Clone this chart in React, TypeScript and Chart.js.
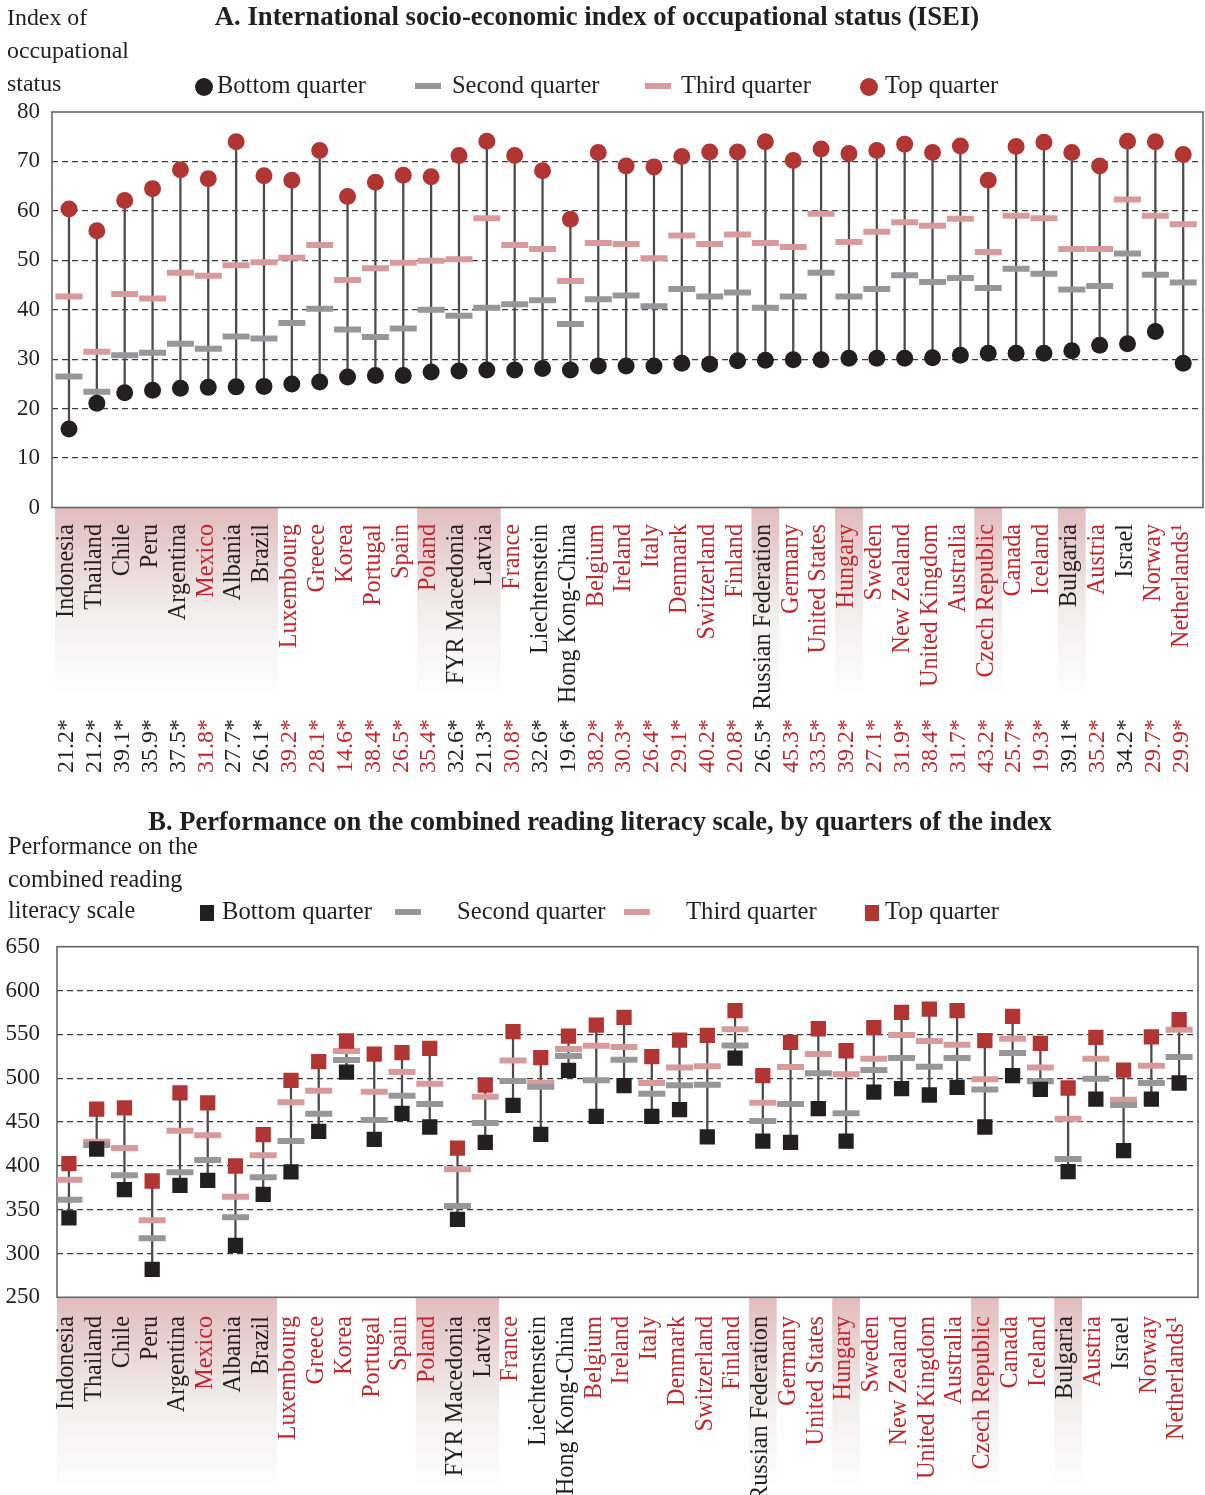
import React, { useEffect, useRef } from 'react';
import { Chart, registerables } from 'chart.js';

Chart.register(...registerables);

const countries = ['Indonesia', 'Thailand', 'Chile', 'Peru', 'Argentina', 'Mexico', 'Albania', 'Brazil', 'Luxembourg', 'Greece', 'Korea', 'Portugal', 'Spain', 'Poland', 'FYR Macedonia', 'Latvia', 'France', 'Liechtenstein', 'Hong Kong-China', 'Belgium', 'Ireland', 'Italy', 'Denmark', 'Switzerland', 'Finland', 'Russian Federation', 'Germany', 'United States', 'Hungary', 'Sweden', 'New Zealand', 'United Kingdom', 'Australia', 'Czech Republic', 'Canada', 'Iceland', 'Bulgaria', 'Austria', 'Israel', 'Norway', 'Netherlands\u00B9'];

// 1 = OECD country (red label)
const oecd = [0, 0, 0, 0, 0, 1, 0, 0, 1, 1, 1, 1, 1, 1, 0, 0, 1, 0, 0, 1, 1, 1, 1, 1, 1, 0, 1, 1, 1, 1, 1, 1, 1, 1, 1, 1, 0, 1, 0, 1, 1];

// shaded country groups (first index, last index)
const shadedGroups = [[0, 7], [13, 15], [25, 25], [28, 28], [33, 33], [36, 36]];

// Numbers under panel A
const gapValues = [21.2, 21.2, 39.1, 35.9, 37.5, 31.8, 27.7, 26.1, 39.2, 28.1, 14.6, 38.4, 26.5, 35.4, 32.6, 21.3, 30.8, 32.6, 19.6, 38.2, 30.3, 26.4, 29.1, 40.2, 20.8, 26.5, 45.3, 33.5, 39.2, 27.1, 31.9, 38.4, 31.7, 43.2, 25.7, 19.3, 39.1, 35.2, 34.2, 29.7, 29.9];

// Panel A: ISEI by quarter
const iseiBottom = [15.9, 21.1, 23.2, 23.7, 24.1, 24.3, 24.4, 24.5, 25.0, 25.4, 26.4, 26.7, 26.7, 27.4, 27.6, 27.8, 27.8, 28.1, 27.8, 28.6, 28.6, 28.6, 29.2, 29.0, 29.7, 29.8, 29.9, 29.9, 30.2, 30.2, 30.2, 30.3, 30.8, 31.2, 31.2, 31.2, 31.7, 32.8, 33.1, 35.6, 29.2];
const iseiSecond = [26.5, 23.4, 30.8, 31.3, 33.1, 32.1, 34.6, 34.2, 37.3, 40.2, 36.0, 34.5, 36.2, 40.0, 38.8, 40.4, 41.1, 41.9, 37.1, 42.1, 42.9, 40.7, 44.2, 42.7, 43.5, 40.4, 42.7, 47.5, 42.7, 44.2, 47.0, 45.6, 46.4, 44.4, 48.3, 47.3, 44.1, 44.8, 51.4, 47.1, 45.5];
const iseiThird = [42.7, 31.5, 43.2, 42.3, 47.5, 46.9, 49.0, 49.6, 50.5, 53.1, 46.0, 48.4, 49.5, 49.9, 50.2, 58.5, 53.1, 52.3, 45.8, 53.5, 53.3, 50.4, 55.0, 53.3, 55.2, 53.5, 52.7, 59.4, 53.7, 55.8, 57.7, 57.0, 58.4, 51.7, 59.0, 58.5, 52.3, 52.3, 62.3, 59.0, 57.3];
const iseiTop = [60.4, 56.0, 62.1, 64.5, 68.3, 66.5, 74.0, 67.1, 66.2, 72.2, 62.9, 65.8, 67.2, 66.9, 71.2, 74.1, 71.2, 68.1, 58.3, 71.8, 69.1, 68.9, 71.0, 71.9, 71.9, 74.0, 70.2, 72.5, 71.6, 72.2, 73.5, 71.8, 73.1, 66.2, 73.0, 73.9, 71.8, 69.1, 74.1, 74.0, 71.4];

// Panel B: reading performance by quarter
const readBottom = [340.5, 419.2, 372.8, 281.9, 377.7, 383.5, 309.3, 367.5, 393.0, 439.3, 507.0, 430.2, 459.9, 444.3, 339.0, 426.8, 469.0, 435.9, 508.9, 456.4, 491.4, 456.4, 464.1, 432.9, 523.0, 428.3, 426.8, 465.2, 428.3, 484.2, 488.0, 480.8, 489.5, 444.3, 502.8, 487.2, 393.3, 476.2, 417.3, 476.2, 494.5];
const readSecond = [361.4, 423.7, 389.2, 317.3, 392.6, 406.6, 341.2, 386.9, 428.3, 459.5, 520.7, 452.3, 480.0, 470.5, 354.2, 448.8, 496.7, 490.3, 525.3, 497.5, 521.1, 482.3, 491.8, 492.6, 537.4, 451.1, 470.5, 505.5, 459.9, 509.3, 523.0, 513.1, 523.0, 487.2, 528.7, 496.4, 407.8, 499.4, 469.4, 494.5, 524.1];
const readThird = [384.2, 427.6, 420.3, 337.8, 440.1, 434.8, 364.8, 412.0, 472.4, 485.7, 531.0, 484.6, 507.0, 493.7, 396.0, 478.9, 520.3, 494.9, 533.2, 537.1, 535.5, 494.5, 512.3, 513.5, 555.7, 472.0, 512.7, 527.5, 504.4, 522.2, 549.2, 542.4, 538.2, 498.7, 545.0, 512.3, 453.8, 522.2, 475.5, 514.2, 555.3];
const readTop = [402.5, 464.8, 466.0, 382.7, 483.1, 471.7, 399.8, 435.5, 497.5, 518.8, 542.4, 527.5, 529.1, 534.0, 420.3, 492.2, 553.0, 523.4, 548.1, 560.6, 569.4, 524.5, 543.5, 548.8, 577.0, 502.8, 540.9, 556.4, 531.3, 557.6, 575.1, 578.9, 577.0, 542.8, 570.5, 539.7, 488.8, 546.6, 509.3, 547.0, 566.7];

const legendLabels = ['Bottom quarter', 'Second quarter', 'Third quarter', 'Top quarter'];

const FAMILY = "'Liberation Serif', 'DejaVu Serif', serif";
const DARK = '#231f20';
const RED_TEXT = '#c1272d';
const C_BOTTOM = '#231f20';
const C_SECOND = '#97979b';
const C_THIRD = '#d89b9b';
const C_TOP = '#b13533';
const STEM = '#4a4a4a';

function fitSize(ctx: CanvasRenderingContext2D, text: string, weight: string, width: number) {
  ctx.font = `${weight} 100px ${FAMILY}`;
  return (100 * width) / ctx.measureText(text).width;
}

type PanelLayout = {
  title: string; titleX: number; titleY: number; titleW: number;
  yTitle: string[]; yTitleX: number; yTitleYs: number[]; yTitleFitW: number;
  legendY: number; legendFitW: number; markerKind: 'circle' | 'square';
  markerX: number[]; textX: number[];
  labelTop: number; bandBottom: number; numbersBottom?: number;
};

function decorPlugin(p: PanelLayout) {
  return {
    id: 'decor',
    beforeDraw(chart: any) {
      const ctx: CanvasRenderingContext2D = chart.ctx;
      const area = chart.chartArea;
      const xs = chart.scales.x;
      ctx.save();
      // shading bands under the axis
      for (const [a, b] of shadedGroups) {
        const x0 = Math.max(area.left, xs.getPixelForValue(a - 0.5));
        const x1 = Math.min(area.right, xs.getPixelForValue(b + 0.5));
        const g = ctx.createLinearGradient(0, area.bottom, 0, p.bandBottom);
        g.addColorStop(0, '#e2bcbd');
        g.addColorStop(0.55, '#f1eeee');
        g.addColorStop(1, '#ffffff');
        ctx.fillStyle = g;
        ctx.fillRect(x0, area.bottom, x1 - x0, p.bandBottom - area.bottom);
      }
      // category labels
      const ls = fitSize(ctx, 'Indonesia', '', 94);
      ctx.font = `${ls}px ${FAMILY}`;
      ctx.textBaseline = 'middle';
      countries.forEach((c, i) => {
        const x = xs.getPixelForValue(i) - 2;
        ctx.save();
        ctx.translate(x, p.labelTop);
        ctx.rotate(-Math.PI / 2);
        ctx.textAlign = 'right';
        ctx.fillStyle = oecd[i] ? RED_TEXT : DARK;
        ctx.fillText(c, 0, 0);
        ctx.restore();
      });
      // numbers row
      if (p.numbersBottom !== undefined) {
        const ns = fitSize(ctx, '21.2*', '', 54);
        ctx.font = `${ns}px ${FAMILY}`;
        gapValues.forEach((v, i) => {
          const x = xs.getPixelForValue(i) - 2;
          ctx.save();
          ctx.translate(x, p.numbersBottom as number);
          ctx.rotate(-Math.PI / 2);
          ctx.textAlign = 'left';
          ctx.fillStyle = oecd[i] ? RED_TEXT : DARK;
          ctx.fillText(v.toFixed(1) + '*', 0, 0);
          ctx.restore();
        });
      }
      // title
      const ts = fitSize(ctx, p.title, 'bold', p.titleW);
      ctx.font = `bold ${ts}px ${FAMILY}`;
      ctx.fillStyle = DARK;
      ctx.textAlign = 'center';
      ctx.fillText(p.title, p.titleX, p.titleY);
      // y axis title
      const ys = fitSize(ctx, p.yTitle.reduce((a, b) => (a.length > b.length ? a : b)), '', p.yTitleFitW);
      ctx.font = `${ys}px ${FAMILY}`;
      ctx.textAlign = 'left';
      p.yTitle.forEach((line, k) => ctx.fillText(line, p.yTitleX, p.yTitleYs[k]));
      // legend
      const lg = fitSize(ctx, legendLabels[0], '', p.legendFitW);
      const colors = [C_BOTTOM, C_SECOND, C_THIRD, C_TOP];
      legendLabels.forEach((t, k) => {
        const mx = p.markerX[k];
        ctx.fillStyle = colors[k];
        if (k === 1 || k === 2) {
          ctx.fillRect(mx - 13, p.legendY - 3, 26, 6);
        } else if (p.markerKind === 'circle') {
          ctx.beginPath();
          ctx.arc(mx, p.legendY + 1, 9, 0, Math.PI * 2);
          ctx.fill();
        } else {
          ctx.fillRect(mx - 7, p.legendY - 7, 14, 16);
        }
        ctx.font = `${lg}px ${FAMILY}`;
        ctx.fillStyle = DARK;
        ctx.textAlign = 'left';
        ctx.fillText(t, p.textX[k], p.legendY + 1);
      });
      ctx.restore();
    },
    beforeDatasetsDraw(chart: any) {
      const ctx: CanvasRenderingContext2D = chart.ctx;
      const a = chart.chartArea;
      ctx.save();
      ctx.strokeStyle = '#666666';
      ctx.lineWidth = 1.6;
      ctx.strokeRect(a.left, a.top, a.right - a.left, a.bottom - a.top);
      ctx.restore();
    },
  };
}

function buildDatasets(bottom: number[], second: number[], third: number[], top: number[], square: boolean) {
  const pts = (arr: number[]) => arr.map((v, i) => ({ x: i, y: v }));
  const markStyle = square ? 'rect' : 'circle';
  const markR = square ? 10.8 : 8.5;
  return [
    {
      type: 'bar', label: 'range', data: bottom.map((v, i) => ({ x: i, y: [v, top[i]] })),
      backgroundColor: STEM, borderWidth: 0, barThickness: 1.6, grouped: false, order: 10,
    },
    {
      type: 'scatter', label: legendLabels[2], data: pts(third), pointStyle: 'line', pointRadius: 13.5,
      pointBorderWidth: 6, pointBorderColor: C_THIRD, pointBackgroundColor: C_THIRD, order: 4,
    },
    {
      type: 'scatter', label: legendLabels[1], data: pts(second), pointStyle: 'line', pointRadius: 13.5,
      pointBorderWidth: 6, pointBorderColor: C_SECOND, pointBackgroundColor: C_SECOND, order: 3,
    },
    {
      type: 'scatter', label: legendLabels[0], data: pts(bottom), pointStyle: markStyle, pointRadius: markR,
      pointBorderWidth: 0, pointBackgroundColor: C_BOTTOM, order: 2,
    },
    {
      type: 'scatter', label: legendLabels[3], data: pts(top), pointStyle: markStyle, pointRadius: markR,
      pointBorderWidth: 0, pointBackgroundColor: C_TOP, order: 1,
    },
  ];
}

function makeConfig(opts: {
  datasets: any[]; xMin: number; xMax: number; yMin: number; yMax: number; step: number;
  axisW: number; tickPad: number; padding: any; plugin: any;
}) {
  return {
    type: 'scatter',
    data: { datasets: opts.datasets },
    options: {
      responsive: false,
      animation: false,
      devicePixelRatio: 1,
      events: [],
      layout: { padding: opts.padding, autoPadding: false },
      plugins: { legend: { display: false }, tooltip: { enabled: false }, title: { display: false } },
      scales: {
        x: {
          type: 'linear', display: false, min: opts.xMin, max: opts.xMax, offset: false,
          grid: { offset: false },
        },
        y: {
          type: 'linear', min: opts.yMin, max: opts.yMax,
          ticks: { stepSize: opts.step, color: DARK, font: { family: FAMILY, size: 23 }, padding: opts.tickPad },
          grid: {
            drawTicks: false, lineWidth: 1.2,
            color: (c: any) => (c.tick && (c.tick.value === opts.yMin || c.tick.value === opts.yMax) ? 'rgba(0,0,0,0)' : '#3c3c3c'),
          },
          border: { display: false, dash: [6, 4] },
          afterFit: (s: any) => { s.width = opts.axisW; },
        },
      },
    },
    plugins: [opts.plugin],
  };
}

export default function App() {
  const refA = useRef<HTMLCanvasElement>(null);
  const refB = useRef<HTMLCanvasElement>(null);

  useEffect(() => {
    const layoutA: PanelLayout = {
      title: 'A. International socio-economic index of occupational status (ISEI)',
      titleX: 597, titleY: 18, titleW: 765,
      yTitle: ['Index of', 'occupational', 'status'], yTitleX: 7, yTitleYs: [19, 52, 85], yTitleFitW: 122,
      legendY: 86, legendFitW: 149, markerKind: 'circle',
      markerX: [204, 428, 658, 869], textX: [217, 452, 681, 885],
      labelTop: 524, bandBottom: 698, numbersBottom: 773,
    };
    const layoutB: PanelLayout = {
      title: 'B. Performance on the combined reading literacy scale, by quarters of the index',
      titleX: 600, titleY: 33, titleW: 904,
      yTitle: ['Performance on the', 'combined reading', 'literacy scale'], yTitleX: 8, yTitleYs: [58, 91, 122], yTitleFitW: 190,
      legendY: 122, legendFitW: 150, markerKind: 'square',
      markerX: [207, 408, 637, 872], textX: [222, 457, 686, 885],
      labelTop: 526, bandBottom: 700,
    };
    const chartA = new Chart(refA.current as HTMLCanvasElement, makeConfig({
      datasets: buildDatasets(iseiBottom, iseiSecond, iseiThird, iseiTop, false),
      xMin: -0.61, xMax: 40.71, yMin: 0, yMax: 80, step: 10, axisW: 52, tickPad: 12,
      padding: { left: 0, top: 112, right: 2, bottom: 282.5 },
      plugin: decorPlugin(layoutA),
    }) as any);
    const chartB = new Chart(refB.current as HTMLCanvasElement, makeConfig({
      datasets: buildDatasets(readBottom, readSecond, readThird, readTop, true),
      xMin: -0.43, xMax: 40.68, yMin: 250, yMax: 650, step: 50, axisW: 57, tickPad: 17,
      padding: { left: 0, top: 156.7, right: 7, bottom: 197.7 },
      plugin: decorPlugin(layoutB),
    }) as any);
    return () => { chartA.destroy(); chartB.destroy(); };
  }, []);

  return (
    <div style={{ position: 'fixed', left: 0, top: 0, width: 1205, height: 1495, background: '#ffffff', overflow: 'hidden' }}>
      <canvas ref={refA} width={1205} height={790} style={{ position: 'absolute', left: 0, top: 0, width: 1205, height: 790 }} />
      <canvas ref={refB} width={1205} height={705} style={{ position: 'absolute', left: 0, top: 790, width: 1205, height: 705 }} />
    </div>
  );
}
